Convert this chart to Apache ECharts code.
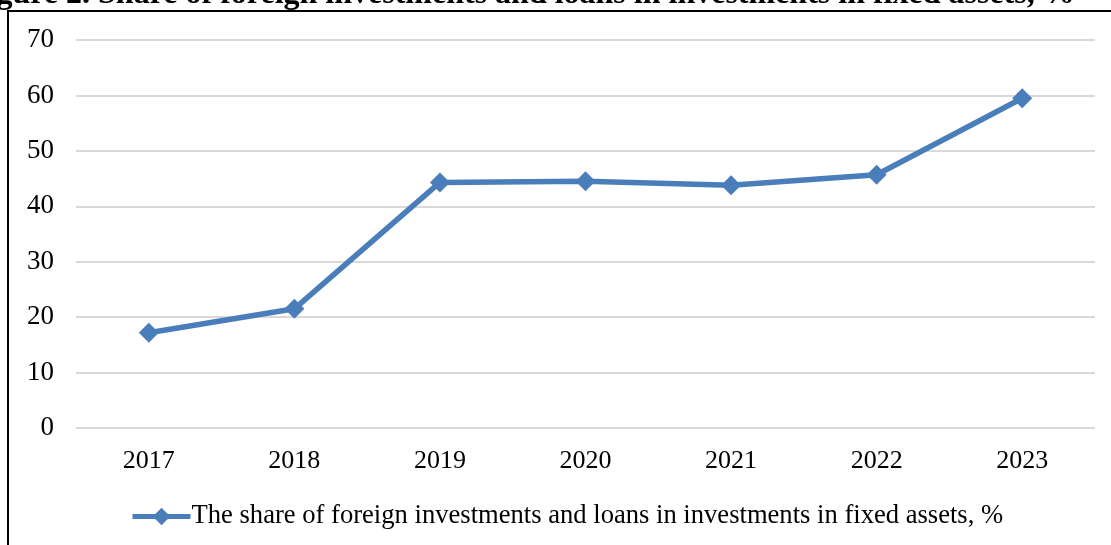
<!DOCTYPE html>
<html><head><meta charset="utf-8">
<script src="https://cdn.jsdelivr.net/npm/echarts@6/dist/echarts.min.js"></script>
<style>html,body{margin:0;padding:0;background:#fff}#c{width:1111px;height:545px}</style>
</head><body><div id="c"></div>
<script>
const categories = ['2017','2018','2019','2020','2021','2022','2023'];
const shareValues = [17.2, 21.5, 44.3, 44.5, 43.8, 45.7, 59.5];
const seriesName = 'The share of foreign investments and loans in investments in fixed assets, %';
const titleText = 'Figure 2. Share of foreign investments and loans in investments in fixed assets, %';

const chart = echarts.init(document.getElementById('c'), null, {renderer:'canvas'});
const font = 'Liberation Serif';
chart.setOption({
  animation:false,
  backgroundColor:'#fff',
  grid:{left:76, right:16, top:40, bottom:117},
  legend:{
    data:[{name:seriesName}],
    bottom:10, left:125,
    itemWidth:58, itemHeight:22, itemGap:0,
    lineStyle:{width:5, color:'#4a7ebb'},
    textStyle:{fontFamily:font, fontSize:26.6, color:'#000', padding:[0,0,0,-4]}
  },
  xAxis:{
    type:'category', data:categories,
    axisLine:{show:false}, axisTick:{show:false},
    axisLabel:{fontFamily:font, fontSize:26, color:'#000', margin:20}
  },
  yAxis:{
    type:'value', min:0, max:70, interval:10,
    axisLine:{show:false}, axisTick:{show:false},
    axisLabel:{fontFamily:font, fontSize:27, color:'#000', margin:22},
    splitLine:{lineStyle:{color:'#d9d9d9', width:2}}
  },
  series:[{
    name:seriesName, type:'line', data:shareValues,
    symbol:'diamond', symbolSize:20,
    lineStyle:{color:'#4a7ebb', width:5.5},
    itemStyle:{color:'#4a7ebb'}
  }],
  graphic:[
    {type:'rect', shape:{x:8, y:11, width:1200, height:600}, style:{fill:'none', stroke:'#000', lineWidth:2}, silent:true},
    {type:'text', x:-32, y:11, style:{text:titleText, font:'bold 32px "Liberation Serif"', fill:'#000', verticalAlign:'bottom'}, silent:true}
  ]
});
</script></body></html>
